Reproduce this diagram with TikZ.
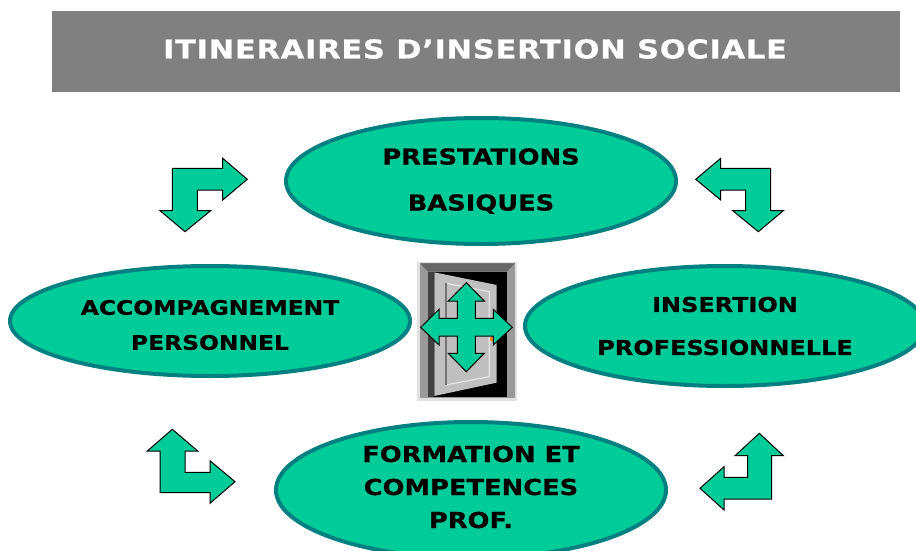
\documentclass[tikz,border=0pt]{standalone}
\usepackage{fontspec}
\setmainfont{DejaVu Sans}
\newfontfamily\bubblefont[FakeStretch=1.17,BoldFeatures={FakeBold=0.6}]{DejaVu Sans}
\newfontfamily\titlefont[FakeStretch=1.17,LetterSpace=3,BoldFeatures={FakeBold=0.6}]{DejaVu Sans}
\usetikzlibrary{shapes.geometric}
\definecolor{tealfill}{HTML}{00CC99}
\definecolor{tealedge}{HTML}{008080}
\tikzstyle{titleband} = [rectangle, minimum width=848pt, minimum height=81pt, inner sep=0pt, fill=black!50]
\tikzstyle{titletext} = [text=white, inner sep=0pt, font=\titlefont\bfseries\fontsize{26}{30}\selectfont]
\tikzstyle{bubble} = [ellipse, inner sep=0pt, align=center, draw=tealedge, line width=4pt, fill=tealfill, font=\bubblefont\bfseries\fontsize{22}{26}\selectfont]
\tikzstyle{bubbletext} = [inner sep=0pt, align=center, font=\bubblefont\bfseries\fontsize{22}{26}\selectfont]
\tikzstyle{blockarrow} = [draw=black, line width=1pt, fill=tealfill, line join=miter]

\begin{document}
\begin{tikzpicture}[x=1pt,y=-1pt]
	\useasboundingbox (0,0) rectangle (916,551);

	\node (band) [titleband] at (476,51.5) {};
	\node (title) [titletext] at (475,49) {ITINERAIRES D’INSERTION SOCIALE};

	\node (prestations) [bubble, minimum width=390pt, minimum height=126pt] at (481,181) {PRESTATIONS\\[20pt]BASIQUES};
	\node (accomp) [bubble, minimum width=400pt, minimum height=110pt] at (210,321) {};
	\node (accomptext) [bubbletext, font=\bubblefont\bfseries\fontsize{20}{26}\selectfont] at (210,325) {ACCOMPAGNEMENT\\[9pt]PERSONNEL};
	\node (insertion) [bubble, minimum width=400pt, minimum height=120pt, font=\bubblefont\bfseries\fontsize{20.5}{26}\selectfont] at (725,326) {INSERTION\\[17pt]PROFESSIONNELLE};
	\node (formation) [bubble, minimum width=390pt, minimum height=136pt] at (471,490) {};
	\node (formationtext) [bubbletext] at (471,487) {FORMATION ET\\[7pt]COMPETENCES\\[7pt]PROF.};

	% door
	\begin{scope}[shift={(400,250)}, x=0.3333pt, y=-0.3333pt]
		\fill [black!12] (52,35) rectangle (350,452);
		\fill [black!40] (60,40) rectangle (345,445);
		\fill [black!60] (60,40) -- (345,40) -- (320,65) -- (85,65) -- cycle;
		\fill [black] (85,65) rectangle (320,442);
		\fill [black!75] (85,65) rectangle (103,442);
		\fill [black!25] (103,67) -- (290,105) -- (290,398) -- (103,438) -- cycle;
		\draw [black!10, line width=1.2pt] (138,100) -- (268,125) -- (268,380) -- (138,405);
		\draw [black!55, line width=1.2pt] (138,100) -- (138,405);
		\fill [orange] (270,260) rectangle (279,272);
	\end{scope}

	% arrows
	\draw [blockarrow] (247.3,179.3) -- (222.7,158.3) -- (222.7,168.3) -- (172.3,168.3) -- (172.3,210.7) -- (160,210.7) -- (185,231.7) -- (210.7,210.7) -- (197.3,210.7) -- (197.3,190) -- (222.7,190) -- (222.7,200) -- cycle;
	\draw [blockarrow] (695.7,179.3) -- (720.7,158.3) -- (720.7,168.3) -- (770.7,168.3) -- (770.7,210.7) -- (783.3,210.7) -- (758.3,231.7) -- (732.7,210.7) -- (745.7,210.7) -- (745.7,190) -- (720.7,190) -- (720.7,200) -- cycle;
	\draw [blockarrow] (172.3,429.3) -- (147.3,451) -- (160,451) -- (160,492.7) -- (210,492.7) -- (210,503.3) -- (235,481.7) -- (210,460.7) -- (210,472.3) -- (185,472.3) -- (185,451) -- (197.7,451) -- cycle;
	\draw [blockarrow] (759.3,433.3) -- (783.3,455.7) -- (771.7,455.7) -- (771.7,499) -- (724,499) -- (724,510) -- (700,488.3) -- (724,466.7) -- (724,477.3) -- (747.7,477.3) -- (747.7,455.7) -- (735,455.7) -- cycle;
	\draw [blockarrow] (466.3,282.7) -- (484.3,301) -- (475.3,301) -- (475.3,318.3) -- (493.3,318.3) -- (493.3,309.3) -- (512.3,327.3) -- (493.3,345) -- (493.3,336) -- (475.3,336) -- (475.3,353.3) -- (484.3,353.3) -- (466.3,371.7) -- (448.3,353.3) -- (457.3,353.3) -- (457.3,336) -- (439,336) -- (439,345) -- (420.7,327.3) -- (439,309.3) -- (439,318.3) -- (457.3,318.3) -- (457.3,301) -- (448.3,301) -- cycle;
\end{tikzpicture}
\end{document}
